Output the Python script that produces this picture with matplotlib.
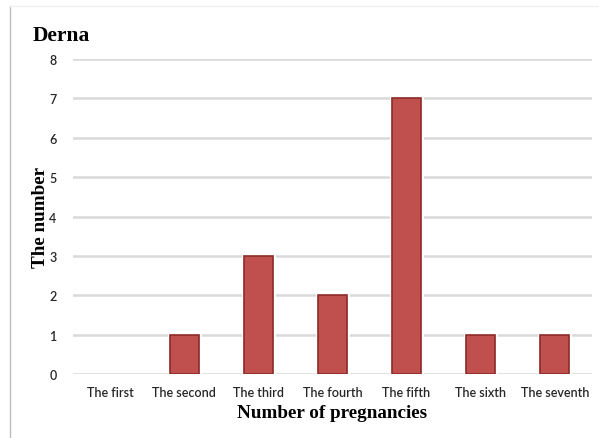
import matplotlib
matplotlib.use('Agg')
import matplotlib.pyplot as plt
from matplotlib.lines import Line2D

categories = ['The first', 'The second', 'The third', 'The fourth',
              'The fifth', 'The sixth', 'The seventh']
counts = [0, 1, 3, 2, 7, 1, 1]
yticks = [0, 1, 2, 3, 4, 5, 6, 7, 8]

bar_color = '#C0504D'
edge_color = '#8C2A27'
grid_color = '#D9D9D9'

fig = plt.figure(figsize=(5.99, 4.39), dpi=100)
ax = fig.add_axes([0.122, 0.1458, 0.866, 0.7175])

x = list(range(len(categories)))
# white halo so gridlines stop short of the bars
halo = ax.bar(x, counts, width=0.39, color='white', edgecolor='white', linewidth=3.5, zorder=2)
bars = ax.bar(x, counts, width=0.39, color=bar_color, edgecolor=edge_color, linewidth=1.2, zorder=3)
# empty categories get no outline
for h, b, c in zip(halo, bars, counts):
    if c == 0:
        h.set_visible(False)
        b.set_visible(False)

ax.set_xlim(-0.5, len(categories) - 0.5)
ax.set_ylim(0, 8)
ax.set_yticks(yticks)
ax.set_xticks(x)
ax.set_xticklabels(categories)
ax.yaxis.grid(True, color=grid_color, linewidth=1.8, zorder=0)
ax.set_axisbelow(True)
for s in ax.spines.values():
    s.set_visible(False)
ax.tick_params(axis='both', length=0, colors='#262626', labelsize=9)
ax.tick_params(axis='y', pad=12)
ax.tick_params(axis='x', pad=9)
for lbl in ax.get_xticklabels() + ax.get_yticklabels():
    lbl.set_family('Lato')
    lbl.set_fontweight('semibold')

ax.set_xlabel('Number of pregnancies', fontsize=13.8, fontweight='bold',
              family='Liberation Serif', labelpad=4, color='black')
ax.set_ylabel('The number', fontsize=13.8, fontweight='bold',
              family='Liberation Serif', labelpad=0, color='black')

fig.text(0.055, 0.918, 'Derna', fontsize=15.5, fontweight='bold',
         family='Liberation Serif', va='center', ha='left')

# light frame around the chart area
fig.add_artist(Line2D([0.017, 0.017], [0, 0.984], transform=fig.transFigure,
                      color='#BFBFBF', linewidth=1))
fig.add_artist(Line2D([0.017, 1.0], [0.984, 0.984], transform=fig.transFigure,
                      color='#F0F0F0', linewidth=1))

fig.savefig('out.png', dpi=100)
